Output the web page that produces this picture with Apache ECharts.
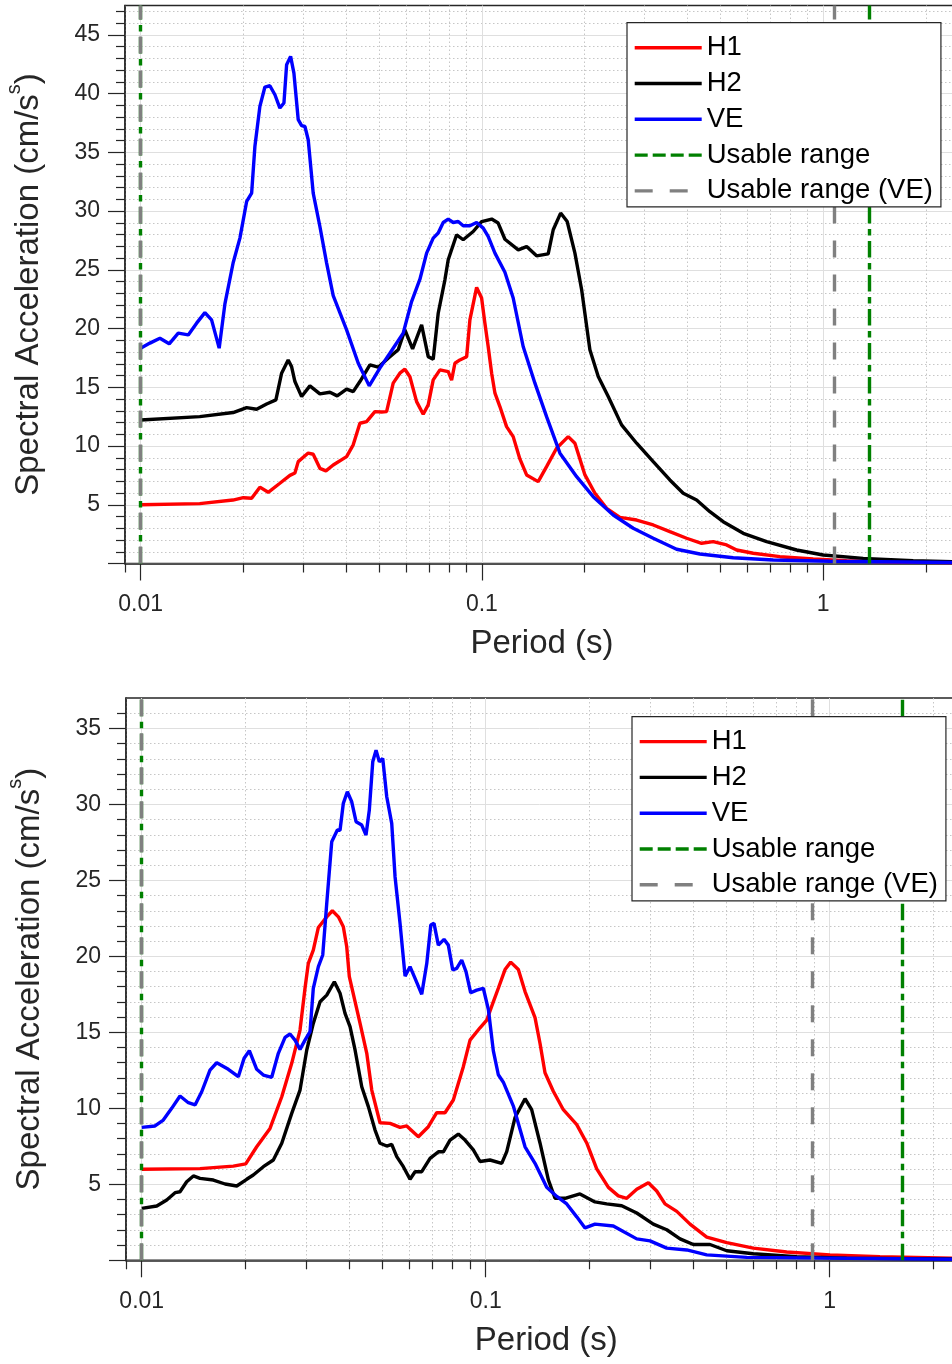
<!DOCTYPE html>
<html><head><meta charset="utf-8">
<script src="https://cdn.jsdelivr.net/npm/echarts@6/dist/echarts.min.js"></script>
<style>html,body{margin:0;padding:0;background:#fff}#c{width:952px;height:1364px}</style>
</head><body><div id="c"></div>
<script>
// ---------- data: [period (s), spectral acceleration (cm/s^2)] ----------
const h1Top = [[0.01,5.0],[0.0149,5.1],[0.01864,5.4],[0.02,5.6],[0.02115,5.55],[0.02236,6.5],[0.02365,6.06],[0.02559,6.83],[0.02738,7.5],[0.02832,7.7],[0.02896,8.67],[0.03098,9.4],[0.03204,9.3],[0.03352,8.1],[0.03491,7.88],[0.03667,8.39],[0.04014,9.1],[0.04197,10.1],[0.04391,11.94],[0.04594,12.08],[0.04858,12.93],[0.05082,12.9],[0.05257,12.93],[0.05496,15.35],[0.0575,16.2],[0.05948,16.54],[0.06152,15.9],[0.06437,13.78],[0.0673,12.7],[0.06961,13.5],[0.072,15.63],[0.07534,16.48],[0.07967,16.34],[0.08151,15.6],[0.08335,17.05],[0.0862,17.33],[0.09021,17.6],[0.09222,20.74],[0.0965,23.5],[0.0998,22.6],[0.102,20.5],[0.1043,18.5],[0.1068,16.2],[0.1092,14.5],[0.1129,13.36],[0.1181,11.65],[0.1235,10.8],[0.1292,8.9],[0.1352,7.54],[0.1462,6.97],[0.1547,8.25],[0.1655,9.81],[0.179,10.8],[0.1873,10.24],[0.2004,7.54],[0.2144,5.98],[0.232,4.7],[0.2537,3.93],[0.284,3.7],[0.3177,3.28],[0.3554,2.71],[0.3979,2.15],[0.4402,1.72],[0.4761,1.86],[0.5212,1.58],[0.5577,1.15],[0.6236,0.87],[0.7466,0.58],[0.9348,0.38],[1.171,0.24],[1.641,0.13],[2.5,0.08]];
const h2Top = [[0.01,12.22],[0.0149,12.5],[0.01867,12.85],[0.02045,13.27],[0.02187,13.13],[0.0234,13.58],[0.02491,13.93],[0.02589,16.2],[0.02706,17.33],[0.02769,16.76],[0.02832,15.49],[0.02963,14.21],[0.03133,15.12],[0.03352,14.44],[0.03586,14.58],[0.03767,14.27],[0.04014,14.84],[0.04197,14.63],[0.04391,15.49],[0.04697,16.9],[0.04969,16.71],[0.05313,17.48],[0.05685,18.19],[0.05948,19.89],[0.06265,18.27],[0.06658,20.32],[0.06961,17.61],[0.072,17.39],[0.07447,21.3],[0.07791,24.15],[0.07967,25.85],[0.08432,27.98],[0.08815,27.56],[0.0943,28.26],[0.0998,29.11],[0.1068,29.32],[0.1116,28.98],[0.1168,27.6],[0.1278,26.7],[0.1352,26.98],[0.1446,26.19],[0.1564,26.36],[0.1618,28.41],[0.1701,29.83],[0.1778,29.11],[0.1873,26.42],[0.196,23.3],[0.2072,18.19],[0.2192,15.91],[0.2345,14.21],[0.2566,11.8],[0.284,10.24],[0.3177,8.67],[0.3554,7.11],[0.3889,5.98],[0.4257,5.41],[0.4656,4.41],[0.5093,3.56],[0.5831,2.57],[0.6829,1.86],[0.8357,1.15],[1.0,0.72],[1.31,0.44],[1.835,0.24],[2.5,0.13]];
const veTop = [[0.01,18.33],[0.01065,18.76],[0.01139,19.18],[0.01213,18.7],[0.01289,19.61],[0.01379,19.46],[0.01459,20.46],[0.01543,21.36],[0.01614,20.74],[0.01699,18.33],[0.01766,22.1],[0.01867,25.6],[0.01954,27.7],[0.02045,30.82],[0.02115,31.53],[0.02162,35.5],[0.02236,38.91],[0.02313,40.56],[0.02392,40.67],[0.02475,39.9],[0.02559,38.77],[0.0263,39.2],[0.02678,42.46],[0.02751,43.17],[0.02813,41.75],[0.02896,37.78],[0.02963,37.27],[0.0303,37.2],[0.03098,36.07],[0.03204,31.53],[0.03352,28.69],[0.03508,25.57],[0.03667,22.8],[0.04014,19.89],[0.04342,17.05],[0.04676,15.12],[0.05024,16.63],[0.05375,17.9],[0.0588,19.61],[0.06223,22.3],[0.06583,24.2],[0.06887,26.42],[0.072,27.7],[0.07447,28.13],[0.07702,29.03],[0.07967,29.32],[0.0824,29.03],[0.08522,29.11],[0.08815,28.75],[0.09222,28.75],[0.0965,29.03],[0.1009,28.55],[0.1043,27.84],[0.1092,26.42],[0.1168,24.8],[0.1235,22.6],[0.1321,18.47],[0.143,15.35],[0.1547,12.5],[0.1693,9.39],[0.1895,7.39],[0.2119,5.69],[0.2425,4.13],[0.2776,3.0],[0.3177,2.15],[0.372,1.21],[0.4353,0.81],[0.545,0.49],[0.7137,0.3],[1.046,0.19],[2.5,0.08]];

const h1Bot = [[0.01,5.99],[0.01477,6.03],[0.01846,6.2],[0.02006,6.34],[0.02159,7.47],[0.0236,8.68],[0.02553,10.76],[0.02729,12.96],[0.02885,15.15],[0.02983,17.9],[0.0305,19.54],[0.03153,20.41],[0.03262,21.9],[0.0345,22.6],[0.03582,23.0],[0.03729,22.6],[0.03855,21.95],[0.03944,20.63],[0.04013,18.66],[0.04312,15.59],[0.0451,13.62],[0.04663,11.2],[0.04928,9.05],[0.05271,9.01],[0.05635,8.75],[0.05893,8.84],[0.0637,8.13],[0.0681,8.79],[0.07204,9.71],[0.07614,9.71],[0.0805,10.55],[0.08608,12.74],[0.09003,14.49],[0.09625,15.3],[0.1007,15.81],[0.1052,17.0],[0.1088,17.9],[0.1138,19.13],[0.1182,19.62],[0.1244,19.13],[0.1301,17.68],[0.1391,15.97],[0.1438,14.28],[0.1487,12.34],[0.1572,11.12],[0.1681,9.91],[0.1839,8.93],[0.1966,7.72],[0.2102,6.02],[0.2273,4.8],[0.2429,4.24],[0.257,4.08],[0.2748,4.68],[0.297,5.1],[0.3141,4.56],[0.332,3.71],[0.3592,3.22],[0.3926,2.38],[0.439,1.53],[0.5019,1.16],[0.5996,0.8],[0.75,0.55],[1.002,0.36],[1.4,0.24],[2.5,0.12]];
const h2Bot = [[0.01,3.42],[0.01106,3.57],[0.01182,3.97],[0.0125,4.45],[0.01292,4.51],[0.01351,5.17],[0.01413,5.55],[0.01477,5.39],[0.01615,5.28],[0.01747,5.02],[0.01889,4.89],[0.02019,5.33],[0.0211,5.61],[0.02257,6.16],[0.02413,6.6],[0.02553,7.7],[0.02729,9.67],[0.02885,11.2],[0.03018,13.84],[0.03153,15.59],[0.03299,17.01],[0.0345,17.45],[0.0363,18.33],[0.03771,17.57],[0.03899,16.25],[0.04032,15.37],[0.0417,13.84],[0.04361,11.42],[0.04558,10.11],[0.04767,8.57],[0.04928,7.7],[0.05155,7.52],[0.0533,7.63],[0.05512,6.82],[0.05761,6.16],[0.06025,5.33],[0.06231,5.83],[0.06516,5.83],[0.06889,6.71],[0.07282,7.14],[0.0753,7.14],[0.07875,7.91],[0.08324,8.31],[0.08706,7.91],[0.09204,7.26],[0.09625,6.5],[0.1029,6.6],[0.1113,6.38],[0.1151,7.15],[0.1217,9.4],[0.1301,10.63],[0.136,9.91],[0.1438,7.72],[0.1521,5.29],[0.159,4.08],[0.17,4.08],[0.1879,4.37],[0.2078,3.84],[0.2247,3.71],[0.2485,3.59],[0.2748,3.11],[0.307,2.38],[0.3359,2.01],[0.3672,1.41],[0.4013,1.04],[0.4487,1.04],[0.5019,0.63],[0.5996,0.43],[0.8017,0.24],[1.12,0.14],[2.5,0.08]];
const veBot = [[0.01,8.75],[0.01093,8.84],[0.01155,9.23],[0.01222,10.0],[0.01292,10.81],[0.01366,10.37],[0.01429,10.22],[0.01494,11.09],[0.01579,12.52],[0.01652,13.0],[0.01785,12.57],[0.01909,12.08],[0.01984,13.29],[0.02055,13.79],[0.02159,12.57],[0.02257,12.19],[0.02387,12.04],[0.02495,13.62],[0.0261,14.67],[0.02698,14.89],[0.0279,14.49],[0.02885,13.88],[0.02983,14.49],[0.03085,15.04],[0.03153,17.89],[0.03262,19.32],[0.03359,20.09],[0.0345,23.49],[0.03567,27.54],[0.03704,28.31],[0.03771,28.3],[0.03855,30.07],[0.0396,30.83],[0.04078,30.17],[0.04198,28.86],[0.04361,28.64],[0.04487,27.98],[0.04588,29.63],[0.04694,32.8],[0.04799,33.57],[0.04906,32.8],[0.05019,33.03],[0.05155,30.5],[0.0533,28.75],[0.0545,25.24],[0.05635,22.17],[0.05828,18.7],[0.06025,19.32],[0.06231,18.55],[0.06516,17.5],[0.0674,19.54],[0.06923,22.06],[0.07074,22.17],[0.07282,20.74],[0.07564,21.12],[0.07786,20.74],[0.08018,19.1],[0.08235,19.21],[0.08515,19.76],[0.08763,18.99],[0.09044,17.6],[0.09415,17.78],[0.0984,17.9],[0.1018,16.5],[0.1052,13.8],[0.1088,12.21],[0.1125,11.72],[0.1203,10.15],[0.1301,7.47],[0.1391,6.38],[0.1504,4.8],[0.1609,4.2],[0.172,3.71],[0.1839,2.86],[0.1944,2.13],[0.2078,2.38],[0.2349,2.26],[0.2512,1.89],[0.2748,1.41],[0.3003,1.28],[0.3359,0.8],[0.384,0.68],[0.439,0.36],[0.5739,0.19],[2.5,0.06]];

// usable-range limits (period, s)
const usableTop = [0.01, 1.36];
const usableVETop = [0.01, 1.077];
const usableBot = [0.01, 1.63];
const usableVEBot = [0.01, 0.894];

// tick values
const xMajor = [0.01, 0.1, 1];
const xMinor = [0.009,0.02,0.03,0.04,0.05,0.06,0.07,0.08,0.09,0.2,0.3,0.4,0.5,0.6,0.7,0.8,0.9,2];
const yMajorTop = [0,5,10,15,20,25,30,35,40,45];
const yMajorBot = [0,5,10,15,20,25,30,35];
const yMinorTop = [1,2,3,4,6,7,8,9,11,12,13,14,16,17,18,19,21,22,23,24,26,27,28,29,31,32,33,34,36,37,38,39,41,42,43,44,46,47];
const yMinorBot = [1,2,3,4,6,7,8,9,11,12,13,14,16,17,18,19,21,22,23,24,26,27,28,29,31,32,33,34,36];

// ---------- styling ----------
const FONT = 'Liberation Sans, Arial, Helvetica, sans-serif';
const AX = '#262626';
const LW = 3.4;
const panels = [
  {grid:{left:125, top:5.5, width:834, height:558}, ymax:47.5, yMajor:yMajorTop, yMinor:yMinorTop,
   h1:h1Top, h2:h2Top, ve:veTop, ur:usableTop, urve:usableVETop, legend:{left:627, top:22.7}},
  {grid:{left:126, top:698, width:840.6, height:562.3}, ymax:37, yMajor:yMajorBot, yMinor:yMinorBot,
   h1:h1Bot, h2:h2Bot, ve:veBot, ur:usableBot, urve:usableVEBot, legend:{left:632, top:716.6}}
];

const grids = [], xAxes = [], yAxes = [], series = [], legends = [];
panels.forEach((p, i) => {
  grids.push(Object.assign({show:true, borderColor:AX, borderWidth:1.5, backgroundColor:'transparent',
    containLabel:false, outerBoundsMode:'none'}, p.grid));
  xAxes.push({
    gridIndex:i, type:'log', logBase:10, min:0.009, max:2.5, position:'bottom',
    axisLine:{show:true, onZero:false, lineStyle:{color:AX, width:1.5}},
    axisTick:{show:true, length:17, customValues:xMajor, lineStyle:{color:AX, width:1.2}},
    axisLabel:{show:true, customValues:xMajor, margin:30, fontSize:23, color:AX, fontFamily:FONT,
      formatter: v => String(parseFloat(Number(v).toPrecision(4)))},
    splitLine:{show:true, lineStyle:{color:'#dfdfdf', width:1}},
    minorTick:{show:false}, minorSplitLine:{show:false},
    name:'Period (s)', nameLocation:'middle', nameGap:64,
    nameTextStyle:{fontSize:33, color:AX, fontFamily:FONT}
  });
  xAxes.push({
    gridIndex:i, type:'log', logBase:10, min:0.009, max:2.5, position:'bottom',
    axisLine:{show:false},
    axisTick:{show:true, length:9, customValues:xMinor, lineStyle:{color:AX, width:1.2}},
    axisLabel:{show:false},
    splitLine:{show:true, lineStyle:{color:'#c6c6c6', width:1, type:[1.5,2.5]}}
  });
  yAxes.push({
    gridIndex:i, type:'value', min:0, max:p.ymax, position:'left',
    axisLine:{show:true, onZero:false, lineStyle:{color:AX, width:1.5}},
    axisTick:{show:true, length:17, customValues:p.yMajor, lineStyle:{color:AX, width:1.2}},
    axisLabel:{show:true, customValues:p.yMajor.filter(v => v > 0), margin:25, fontSize:23, color:AX, fontFamily:FONT},
    splitLine:{show:true, lineStyle:{color:'#dfdfdf', width:1}},
    name:'{m|Spectral Acceleration (cm/s}{s|s}{m|)}', nameLocation:'middle', nameGap:80,
    nameTextStyle:{color:AX, fontFamily:FONT, fontSize:33,
      rich:{ m:{fontSize:33, color:AX, fontFamily:FONT, verticalAlign:'bottom', lineHeight:41},
             s:{fontSize:20, color:AX, fontFamily:FONT, verticalAlign:'top', lineHeight:20} }}
  });
  yAxes.push({
    gridIndex:i, type:'value', min:0, max:p.ymax, position:'left',
    axisLine:{show:false},
    axisTick:{show:true, length:9, customValues:p.yMinor, lineStyle:{color:AX, width:1.2}},
    axisLabel:{show:false},
    splitLine:{show:true, lineStyle:{color:'#c6c6c6', width:1, type:[1.5,2.5]}}
  });
  const xi = 2*i, yi = 2*i;
  const mk = (name, data, color) => ({
    name, type:'line', xAxisIndex:xi, yAxisIndex:yi, data, symbol:'none', showSymbol:false,
    lineStyle:{color, width:LW}, itemStyle:{color}, clip:true, animation:false, z:3
  });
  series.push(mk('H1', p.h1, '#ff0000'));
  series.push(mk('H2', p.h2, '#000000'));
  series.push(mk('VE', p.ve, '#0000ff'));
  const vline = (name, vals, color, dash) => ({
    name, type:'line', xAxisIndex:xi, yAxisIndex:yi, data:[], symbol:'none',
    lineStyle:{color, width:LW, type:dash}, itemStyle:{color}, animation:false, z:4,
    markLine:{silent:true, symbol:['none','none'], label:{show:false}, animation:false,
      lineStyle:{color, width:LW, type:dash},
      emphasis:{disabled:true},
      data: vals.map(v => ({xAxis:v}))}
  });
  series.push(vline('Usable range', p.ur, '#008000', [16.5,5.5,6.5,5.5]));
  series.push(vline('Usable range (VE)', p.urve, '#808080', [17,17]));
  legends.push({
    orient:'vertical', left:p.legend.left, top:p.legend.top, selectedMode:false,
    z:20, zlevel:0,
    backgroundColor:'#ffffff', borderColor:AX, borderWidth:1.2,
    padding:[10,8,1,6], itemGap:5.8, itemWidth:67, itemHeight:30,
    textStyle:{fontSize:27.5, color:'#000', fontFamily:FONT, lineHeight:30},
    itemStyle:{opacity:0, borderWidth:0},
    lineStyle:{width:LW},
    data:[
      {name:'H1', lineStyle:{color:'#ff0000', width:LW, type:'solid'}},
      {name:'H2', lineStyle:{color:'#000000', width:LW, type:'solid'}},
      {name:'VE', lineStyle:{color:'#0000ff', width:LW, type:'solid'}},
      {name:'Usable range', lineStyle:{color:'#008000', width:LW, type:[13,5]}},
      {name:'Usable range (VE)', lineStyle:{color:'#808080', width:LW, type:[18,17]}}
    ]
  });
});

const chart = echarts.init(document.getElementById('c'), null, {renderer:'canvas', width:952, height:1364});
chart.setOption({
  backgroundColor:'#ffffff', animation:false,
  grid:grids, xAxis:xAxes, yAxis:yAxes, series, legend:legends
});
</script>
</body></html>
